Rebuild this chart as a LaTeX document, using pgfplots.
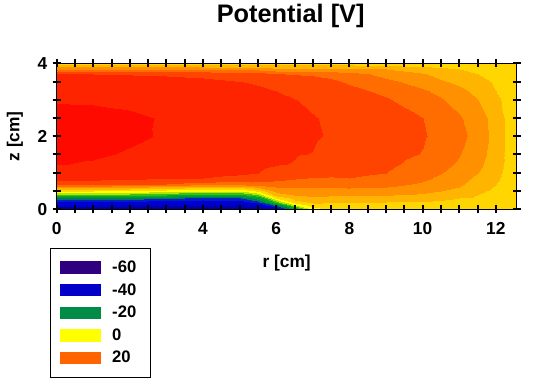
\documentclass[border=0pt]{standalone}
\usepackage{pgfplots}
\pgfplotsset{compat=1.18}
\usepackage{fontspec}
\setmainfont{Liberation Sans}
\definecolor{l60}{RGB}{46,0,128}
\definecolor{l40}{RGB}{0,0,200}
\definecolor{l20}{RGB}{0,140,70}
\definecolor{l0}{RGB}{255,255,0}
\definecolor{lp20}{RGB}{255,100,0}
\begin{document}
\begin{tikzpicture}
\begin{axis}[
  view={0}{90},
  scale only axis,
  width=345pt, height=109.2pt,
  xmin=0, xmax=12.57, ymin=0, ymax=4, zmin=-70, zmax=40,
  xtick={0,2,...,12}, ytick={0,2,4}, ztick=\empty,
  minor x tick num=3, minor y tick num=3,
  tick align=center,
  major tick length=6pt, minor tick length=6pt,
  every tick/.style={black, line width=1.5pt},
  axis line style={black, line width=0.8pt},
  /pgf/number format/assume math mode=true,
  ticklabel style={font=\bfseries\fontsize{13}{15}\selectfont},
  xticklabel style={yshift=-3.5pt},
  yticklabel style={xshift=-0.5pt},
  title={Potential [V]},
  title style={font=\bfseries\fontsize{19}{22}\selectfont, at={(0.5,1)}, anchor=base, yshift=24.5pt, xshift=3pt},
  xlabel={r [cm]}, ylabel={z [cm]},
  xlabel style={font=\bfseries\fontsize{13}{15}\selectfont, at={(0.5,-0.372)}, anchor=center},
  ylabel style={font=\bfseries\fontsize{13}{15}\selectfont, at={(-0.0907,0.5)}, anchor=center},
  colormap={pot}{rgb255(0)=(16,0,110) rgb255(5)=(10,0,130) rgb255(10)=(0,0,150) rgb255(15)=(0,0,170) rgb255(20)=(0,0,195) rgb255(25)=(0,0,210) rgb255(30)=(0,30,200) rgb255(35)=(0,120,90) rgb255(40)=(0,150,60) rgb255(45)=(0,170,40) rgb255(50)=(60,190,20) rgb255(55)=(180,230,0) rgb255(60)=(255,255,0) rgb255(65)=(255,214,0) rgb255(70)=(255,180,0) rgb255(75)=(255,144,0) rgb255(80)=(255,108,0) rgb255(85)=(255,68,0) rgb255(90)=(255,36,0) rgb255(95)=(255,10,0) rgb255(100)=(255,10,0)},
  colormap access=piecewise constant,
  point meta min=-65, point meta max=35,
  legend style={at={(-0.0146,-0.264)}, anchor=north west, draw=black, line width=1pt,
    inner xsep=7pt, inner ysep=9.5pt, row sep=6.7pt,
    nodes={inner sep=0pt},
    font=\bfseries\fontsize{12.5}{15}\selectfont, cells={anchor=west},
    /tikz/every odd column/.append style={column sep=8.5pt}},
  legend image code/.code={\fill[#1, draw=none] (0pt,-4.7pt) rectangle (30.7pt,4.7pt);},
]
\addplot3[surf, shader=interp, mesh/cols=20, forget plot] coordinates {
(0,0,-57) (0,0.1,-40) (0,0.2,-36) (0,0.3,-26) (0,0.4,-12) (0,0.5,0) (0,0.6,12) (0,0.7,22.5) (0,0.85,26.5) (0,1,27.8) (0,1.25,30.2) (0,1.5,31) (0,2,32) (0,2.5,31.3) (0,3,29.7) (0,3.25,28.6) (0,3.5,27) (0,3.7,25.2) (0,3.85,14) (0,4,2)
(1,0,-57) (1,0.1,-40) (1,0.2,-36) (1,0.3,-26) (1,0.4,-12) (1,0.5,0) (1,0.6,12) (1,0.7,22.5) (1,0.85,26.4) (1,1,27.6) (1,1.25,29.6) (1,1.5,30.6) (1,2,31.7) (1,2.5,31.1) (1,3,29.6) (1,3.25,28.4) (1,3.5,26.8) (1,3.7,25) (1,3.85,14) (1,4,2)
(2,0,-57) (2,0.1,-41) (2,0.2,-37) (2,0.3,-27) (2,0.4,-13) (2,0.5,-1) (2,0.6,11) (2,0.7,22) (2,0.85,26.2) (2,1,27.3) (2,1.25,28.6) (2,1.5,29.6) (2,2,30.7) (2,2.5,30.6) (2,3,29.2) (2,3.25,28.2) (2,3.5,26.6) (2,3.7,24.8) (2,3.85,14) (2,4,2)
(3,0,-57) (3,0.1,-41) (3,0.2,-38) (3,0.3,-29) (3,0.4,-15) (3,0.5,-3) (3,0.6,9) (3,0.7,20) (3,0.85,25.6) (3,1,26.8) (3,1.25,27.9) (3,1.5,28.6) (3,2,29.6) (3,2.5,29.7) (3,3,28.6) (3,3.25,27.6) (3,3.5,26.2) (3,3.7,24.6) (3,3.85,14) (3,4,2)
(4,0,-57) (4,0.1,-42) (4,0.2,-39) (4,0.3,-31) (4,0.4,-18) (4,0.5,-5) (4,0.6,7) (4,0.7,18) (4,0.85,25) (4,1,26.3) (4,1.25,27.2) (4,1.5,27.8) (4,2,28.5) (4,2.5,28.6) (4,3,27.9) (4,3.25,27) (4,3.5,25.8) (4,3.7,24.2) (4,3.85,14) (4,4,2)
(5,0,-56) (5,0.1,-42) (5,0.2,-38) (5,0.3,-30) (5,0.4,-18) (5,0.5,-5) (5,0.6,6.5) (5,0.7,17) (5,0.85,24) (5,1,25.6) (5,1.25,26.5) (5,1.5,27) (5,2,27.4) (5,2.5,27.5) (5,3,26.9) (5,3.25,26.2) (5,3.5,25.1) (5,3.7,23.6) (5,3.85,13.5) (5,4,2)
(5.5,0,-52) (5.5,0.1,-40) (5.5,0.2,-32) (5.5,0.3,-22) (5.5,0.4,-10) (5.5,0.5,1) (5.5,0.6,11) (5.5,0.7,18) (5.5,0.85,23.3) (5.5,1,25) (5.5,1.25,26) (5.5,1.5,26.5) (5.5,2,26.9) (5.5,2.5,27) (5.5,3,26.4) (5.5,3.25,25.7) (5.5,3.5,24.6) (5.5,3.7,23.2) (5.5,3.85,13.2) (5.5,4,2)
(6,0,-40) (6,0.1,-28) (6,0.2,-12) (6,0.3,0) (6,0.4,7) (6,0.5,11.8) (6,0.6,15.1) (6,0.7,18) (6,0.85,21.5) (6,1,23.6) (6,1.25,25.3) (6,1.5,25.9) (6,2,26.4) (6,2.5,26.3) (6,3,25.6) (6,3.25,25) (6,3.5,23.8) (6,3.7,20.2) (6,3.85,11.5) (6,4,2)
(6.5,0,-22) (6.5,0.1,-5) (6.5,0.2,3) (6.5,0.3,7.2) (6.5,0.4,10.3) (6.5,0.5,13) (6.5,0.6,15.3) (6.5,0.7,17.5) (6.5,0.85,20.5) (6.5,1,22.6) (6.5,1.25,24.8) (6.5,1.5,25.2) (6.5,2,25.9) (6.5,2.5,25.7) (6.5,3,25.1) (6.5,3.25,24) (6.5,3.5,22.6) (6.5,3.7,19.8) (6.5,3.85,11.3) (6.5,4,2)
(7,0,-3) (7,0.1,3) (7,0.2,6) (7,0.3,8.8) (7,0.4,11) (7,0.5,13.2) (7,0.6,15.1) (7,0.7,17) (7,0.85,19.8) (7,1,21.8) (7,1.25,23.6) (7,1.5,24.9) (7,2,25.35) (7,2.5,25.2) (7,3,24.3) (7,3.25,23.3) (7,3.5,21.8) (7,3.7,19.5) (7,3.85,11.2) (7,4,2)
(7.5,0,1.5) (7.5,0.1,3.3) (7.5,0.2,5.5) (7.5,0.3,8.3) (7.5,0.4,10.8) (7.5,0.5,13.2) (7.5,0.6,15.4) (7.5,0.7,17.3) (7.5,0.85,19.6) (7.5,1,21.3) (7.5,1.25,23) (7.5,1.5,23.9) (7.5,2,24.7) (7.5,2.5,24.5) (7.5,3,23.5) (7.5,3.25,22.4) (7.5,3.5,20.9) (7.5,3.7,18.8) (7.5,3.85,11) (7.5,4,2)
(8,0,2) (8,0.1,3.5) (8,0.2,5) (8,0.3,8) (8,0.4,10.5) (8,0.5,13.3) (8,0.6,15.6) (8,0.7,17.6) (8,0.85,20) (8,1,21.2) (8,1.25,22.5) (8,1.5,23.3) (8,2,24) (8,2.5,23.7) (8,3,22.5) (8,3.25,21.3) (8,3.5,19.5) (8,3.7,17) (8,3.85,11.5) (8,4,2)
(9,0,2) (9,0.1,3.5) (9,0.2,5) (9,0.3,7.5) (9,0.4,10.2) (9,0.5,12.8) (9,0.6,15.1) (9,0.7,16.6) (9,0.85,18.6) (9,1,20) (9,1.25,21) (9,1.5,21.7) (9,2,22.3) (9,2.5,21.9) (9,3,20.5) (9,3.25,19) (9,3.5,16.3) (9,3.7,13.5) (9,3.85,10) (9,4,2)
(10,0,2) (10,0.1,3.3) (10,0.2,4.6) (10,0.3,6.8) (10,0.4,9.2) (10,0.5,11.3) (10,0.6,13) (10,0.7,14.3) (10,0.85,16) (10,1,17.2) (10,1.25,18.5) (10,1.5,19.8) (10,2,20.4) (10,2.5,20) (10,3,17.5) (10,3.25,15.6) (10,3.5,13.2) (10,3.7,10.5) (10,3.85,7.5) (10,4,2)
(10.5,0,2) (10.5,0.1,3.2) (10.5,0.2,4.3) (10.5,0.3,5.8) (10.5,0.4,7.8) (10.5,0.5,10) (10.5,0.6,11.5) (10.5,0.7,12.7) (10.5,0.85,14) (10.5,1,15.2) (10.5,1.25,16.5) (10.5,1.5,17.4) (10.5,2,18.6) (10.5,2.5,18) (10.5,3,15.5) (10.5,3.25,13.8) (10.5,3.5,10.8) (10.5,3.7,8.3) (10.5,3.85,6) (10.5,4,2)
(11,0,2) (11,0.1,3) (11,0.2,4) (11,0.3,5) (11,0.4,6.8) (11,0.5,8.5) (11,0.6,10) (11,0.7,11) (11,0.85,12.2) (11,1,13.1) (11,1.25,14.4) (11,1.5,15.3) (11,2,16.4) (11,2.5,15.6) (11,3,13) (11,3.25,11.3) (11,3.5,9) (11,3.7,7) (11,3.85,5) (11,4,2)
(11.5,0,2) (11.5,0.1,2.8) (11.5,0.2,3.6) (11.5,0.3,4.3) (11.5,0.4,4.9) (11.5,0.5,5.6) (11.5,0.6,6.6) (11.5,0.7,7.5) (11.5,0.85,8.8) (11.5,1,10) (11.5,1.25,11.3) (11.5,1.5,12.2) (11.5,2,13.2) (11.5,2.5,12.6) (11.5,3,10) (11.5,3.25,8.8) (11.5,3.5,7) (11.5,3.7,5) (11.5,3.85,4) (11.5,4,2)
(12,0,2) (12,0.1,2.5) (12,0.2,3) (12,0.3,3.4) (12,0.4,3.8) (12,0.5,4.2) (12,0.6,4.6) (12,0.7,5) (12,0.85,5.6) (12,1,6.1) (12,1.25,6.8) (12,1.5,7.3) (12,2,7.8) (12,2.5,7.4) (12,3,5.9) (12,3.25,5) (12,3.5,4.3) (12,3.7,3.5) (12,3.85,2.8) (12,4,2)
(12.3,0,2) (12.3,0.1,2.3) (12.3,0.2,2.6) (12.3,0.3,2.8) (12.3,0.4,3) (12.3,0.5,3.2) (12.3,0.6,3.4) (12.3,0.7,3.6) (12.3,0.85,3.8) (12.3,1,3.9) (12.3,1.25,4.1) (12.3,1.5,4.2) (12.3,2,4.3) (12.3,2.5,4.2) (12.3,3,3.9) (12.3,3.25,3.6) (12.3,3.5,3.2) (12.3,3.7,2.8) (12.3,3.85,2.5) (12.3,4,2)
(12.57,0,2) (12.57,0.1,2) (12.57,0.2,2) (12.57,0.3,2) (12.57,0.4,2) (12.57,0.5,2) (12.57,0.6,2) (12.57,0.7,2) (12.57,0.85,2) (12.57,1,2) (12.57,1.25,2) (12.57,1.5,2) (12.57,2,2) (12.57,2.5,2) (12.57,3,2) (12.57,3.25,2) (12.57,3.5,2) (12.57,3.7,2) (12.57,3.85,2) (12.57,4,2)
};
\addlegendimage{fill=l60}
\addlegendentry{-60\hspace*{3.5pt}}
\addlegendimage{fill=l40}
\addlegendentry{-40\hspace*{3.5pt}}
\addlegendimage{fill=l20}
\addlegendentry{-20\hspace*{3.5pt}}
\addlegendimage{fill=l0}
\addlegendentry{0}
\addlegendimage{fill=lp20}
\addlegendentry{20}
\coordinate (sw) at (axis cs:0,0,0);
\end{axis}
\path (sw) ++(-42.5pt,-131pt) rectangle ++(409.5pt,287.25pt);
\end{tikzpicture}
\end{document}
